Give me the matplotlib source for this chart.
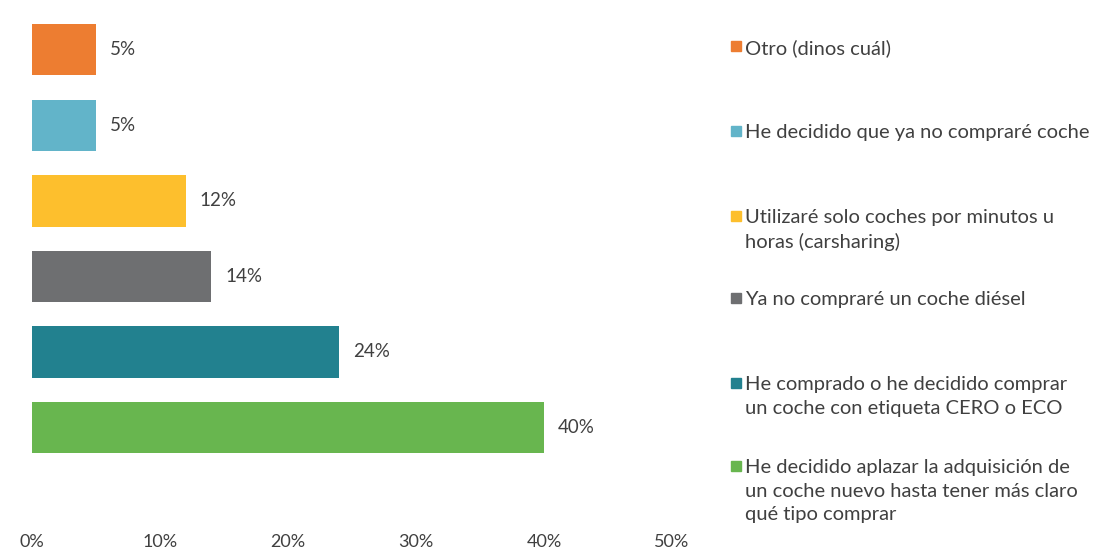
import matplotlib
matplotlib.use("Agg")
import matplotlib.pyplot as plt
from matplotlib.patches import Rectangle
from matplotlib.ticker import FuncFormatter

categories = [
    "Otro (dinos cuál)",
    "He decidido que ya no compraré coche",
    "Utilizaré solo coches por minutos u\nhoras (carsharing)",
    "Ya no compraré un coche diésel",
    "He comprado o he decidido comprar\nun coche con etiqueta CERO o ECO",
    "He decidido aplazar la adquisición de\nun coche nuevo hasta tener más claro\nqué tipo comprar",
]
values = [5, 5, 12, 14, 24, 40]
colors = ["#ED7D31", "#62B4C9", "#FDBF2D", "#6E6F71", "#22818F", "#68B64F"]
xticks = [0, 10, 20, 30, 40, 50]

plt.rcParams["font.family"] = ["Lato", "DejaVu Sans"]
txt_color = "#404040"

fig = plt.figure(figsize=(11.08, 5.53), dpi=100)
W, H = 1108, 553
ax = fig.add_axes([32 / W, 1 - 528 / H, (672 - 32) / W, (528 - 12) / H])
y = list(range(len(categories)))
ax.barh(y, values, height=0.68, color=colors)
for yi, v in zip(y, values):
    ax.text(v + 1.1, yi, f"{v}%", va="center", ha="left", fontsize=13.5, color=txt_color)

ax.set_xlim(0, 50)
ax.set_ylim(6.33, -0.5)
ax.set_xticks(xticks)
ax.xaxis.set_major_formatter(FuncFormatter(lambda v, p: f"{v:.0f}%"))
ax.set_yticks([])
ax.tick_params(axis="x", length=0, labelsize=13, labelcolor=txt_color, pad=4)
for s in ax.spines.values():
    s.set_visible(False)

starts = [46, 131, 216, 298, 383, 466]
for lab, col, ys in zip(categories, colors, starts):
    fig.patches.append(Rectangle((731 / W, 1 - (ys + 5) / H), 10 / W, 10 / H,
                                 transform=fig.transFigure, color=col))
    fig.text(745 / W, 1 - (ys - 7) / H, lab, ha="left", va="top",
             fontsize=14.5, color=txt_color, linespacing=1.47,
             transform=fig.transFigure)

fig.savefig("out.png", dpi=100, facecolor="white")
